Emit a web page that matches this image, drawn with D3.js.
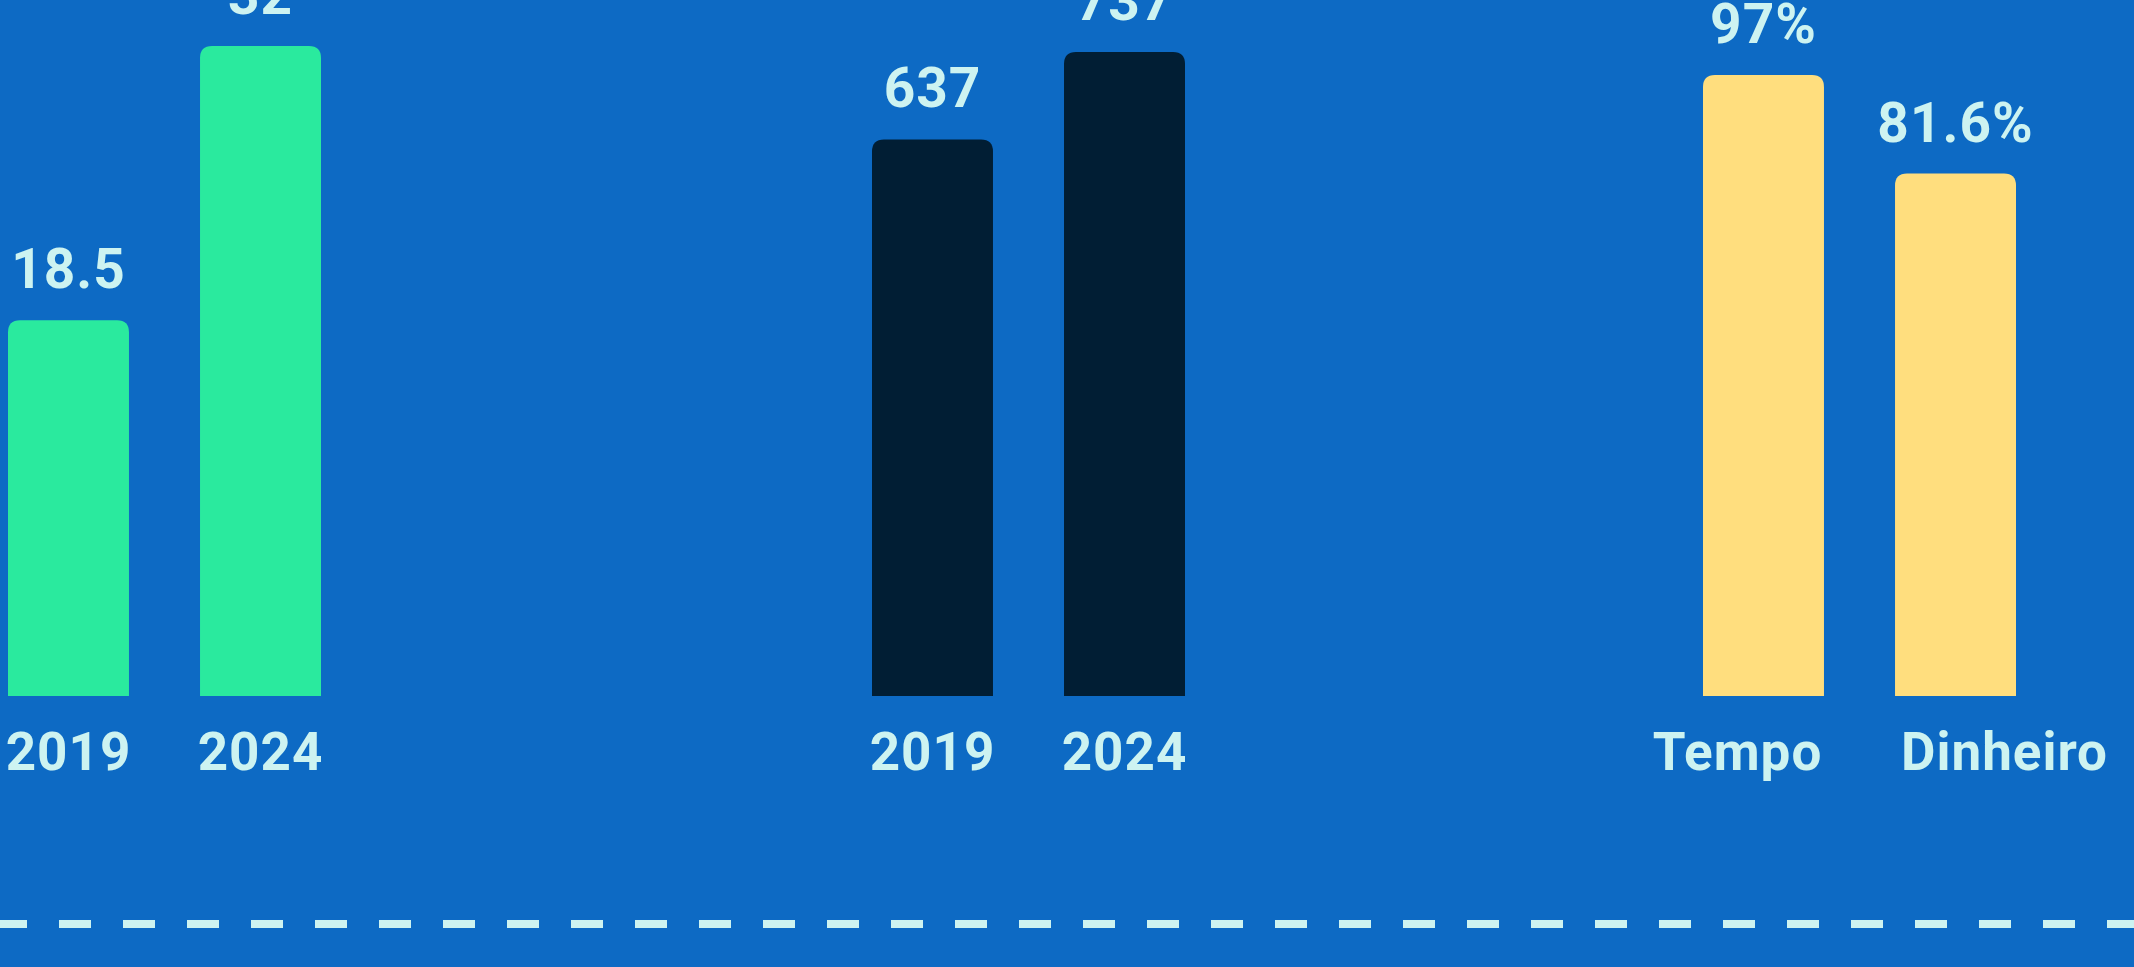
<!DOCTYPE html>
<html>
<head>
<meta charset="utf-8">
<script src="https://cdn.jsdelivr.net/npm/d3@7"></script>
<style>
  html, body { margin: 0; padding: 0; background: #0d6ac4; overflow: hidden; }
  svg { display: block; }
  text { font-family: Roboto, 'Noto Sans', sans-serif; font-weight: 700; fill: #cdf3f1; }
</style>
</head>
<body>
<svg width="2134" height="967"></svg>
<script>
// data
const yearCategories = ['2019', '2024'];
const greenValues = [18.5, 32];
const darkValues = [637, 737];
const moneyCategories = ['Tempo', 'Dinheiro'];
const yellowValues = [97, 81.6];
const percentFormat = v => v + '%';

(function (d3) {
    'use strict';

    const svg = d3.select('svg');
    const width = +svg.attr('width');
    const baseline = 696;
    const panelWidth = 313;

    // rounded top corners, square bottom
    const barPath = (x, y, w, h, r) => {
        r = Math.min(r, h, w / 2);
        return `M${x},${y + h}V${y + r}Q${x},${y} ${x + r},${y}` +
            `H${x + w - r}Q${x + w},${y} ${x + w},${y + r}V${y + h}Z`;
    };

    const barPanel = (selection, props) => {
        const { categories, values, color, left, maxTop, format, labelShift } = props;

        const xScale = d3.scaleBand()
            .domain(categories)
            .range([0, panelWidth])
            .paddingInner(0.37)
            .paddingOuter(0);

        const yScale = d3.scaleLinear()
            .domain([0, d3.max(values)])
            .range([baseline, maxTop]);

        const data = categories.map((c, i) => ({ c, v: values[i] }));

        const g = selection.append('g')
            .attr('transform', `translate(${left},0)`);

        g.selectAll('path.bar').data(data)
          .enter().append('path')
            .attr('class', 'bar')
            .attr('fill', color)
            .attr('d', d => barPath(xScale(d.c), yScale(d.v),
                xScale.bandwidth(), baseline - yScale(d.v), 12));

        g.selectAll('text.value').data(data)
          .enter().append('text')
            .attr('class', 'value')
            .attr('text-anchor', 'middle')
            .attr('font-size', 55)
            .attr('letter-spacing', 1)
            .attr('x', d => xScale(d.c) + xScale.bandwidth() / 2)
            .attr('y', d => yScale(d.v) - 32)
            .text(d => format(d.v));

        const xAxis = d3.axisBottom(xScale).tickSize(0).tickPadding(0);
        const axisG = g.append('g')
            .attr('transform', `translate(0,${baseline})`)
            .call(xAxis);
        axisG.select('.domain').remove();
        axisG.selectAll('text')
            .attr('font-size', 53)
            .attr('letter-spacing', 1)
            .attr('dy', null)
            .attr('y', 74)
            .attr('x', (d, i) => labelShift ? labelShift[i] : 0)
            .attr('fill', null)
            .attr('font-family', null);
    };

    svg.call(barPanel, {
        categories: yearCategories, values: greenValues, color: '#2aea9e',
        left: 8, maxTop: 46, format: v => String(v)
    });
    svg.call(barPanel, {
        categories: yearCategories, values: darkValues, color: '#011e34',
        left: 872, maxTop: 52, format: v => String(v)
    });
    svg.call(barPanel, {
        categories: moneyCategories, values: yellowValues, color: '#ffde7e',
        left: 1703, maxTop: 75, format: percentFormat, labelShift: [-26, 49]
    });

    // dashed separator
    svg.append('line')
        .attr('x1', -5).attr('x2', width)
        .attr('y1', 924).attr('y2', 924)
        .attr('stroke', '#cdf3f1')
        .attr('stroke-width', 8)
        .attr('stroke-dasharray', '32 32');
}(d3));
</script>
</body>
</html>
